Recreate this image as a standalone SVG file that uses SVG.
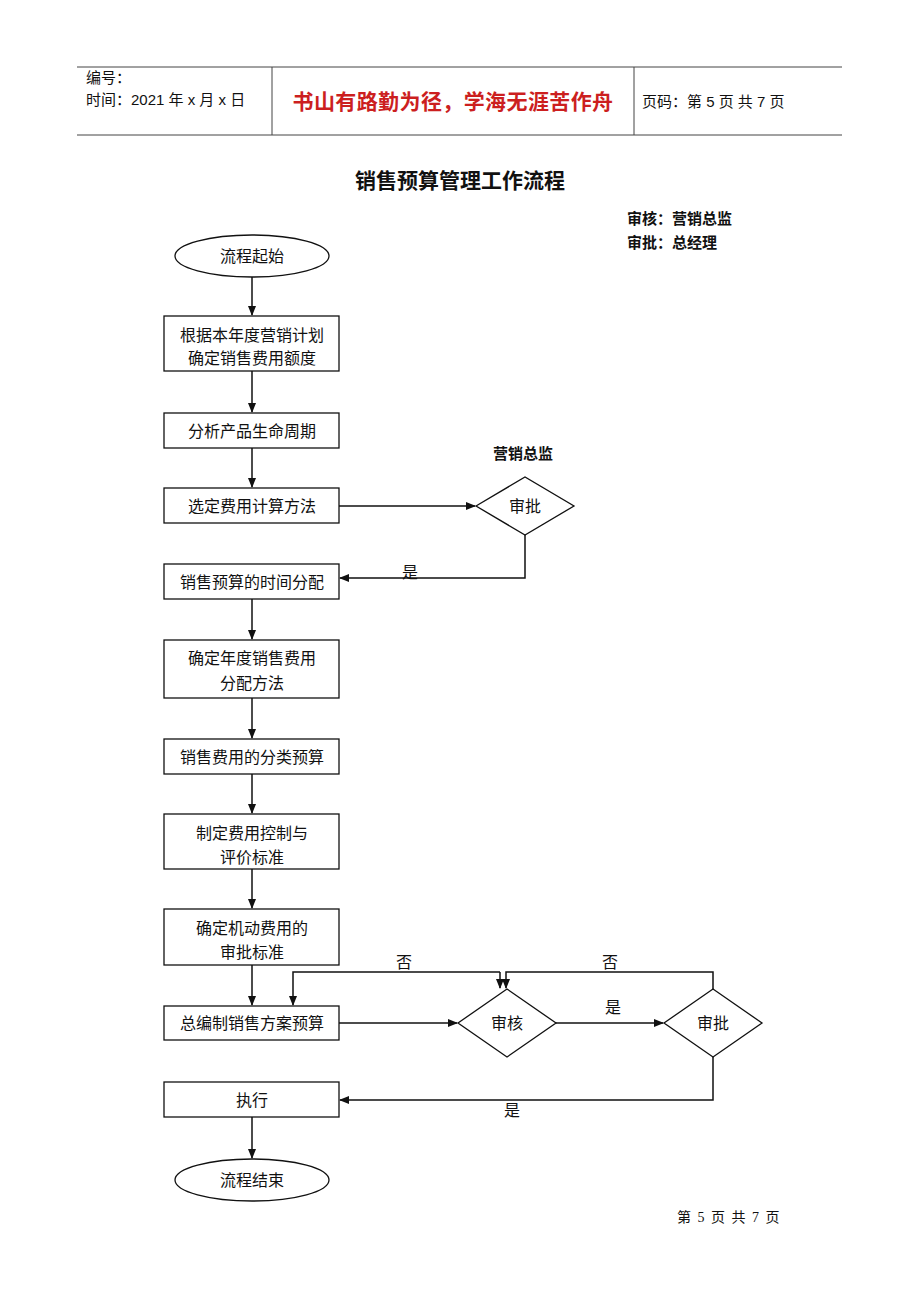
<svg xmlns="http://www.w3.org/2000/svg" width="920" height="1302" viewBox="0 0 920 1302">
<style>
.t{font-family:"Liberation Serif","Noto Sans CJK SC",serif;font-size:16px;fill:#111;text-anchor:middle}
.b{font-family:"Liberation Sans","Noto Sans CJK SC",sans-serif;font-weight:bold;fill:#111}
.h{font-family:"Liberation Sans","Noto Sans CJK SC",sans-serif;font-size:15px;fill:#111}
.n{fill:#fff;stroke:#111;stroke-width:1.3}
.c{fill:none;stroke:#111;stroke-width:1.5}
</style>
<defs>
<marker id="a" markerWidth="10" markerHeight="10" refX="9" refY="5" orient="auto" markerUnits="userSpaceOnUse">
<path d="M0,1 L10,5 L0,9 z" fill="#111"/>
</marker>
</defs>
<rect width="920" height="1302" fill="#fff"/>
<g id="header">
<line x1="77" y1="67" x2="842" y2="67" stroke="#444" stroke-width="1"/>
<line x1="77" y1="135" x2="842" y2="135" stroke="#444" stroke-width="1"/>
<line x1="272" y1="67" x2="272" y2="135" stroke="#444" stroke-width="1"/>
<line x1="634" y1="67" x2="634" y2="135" stroke="#444" stroke-width="1"/>
<text class="h" x="86" y="83">编号：</text>
<text class="h" x="86" y="105">时间：2021 年 x 月 x 日</text>
<text x="453" y="109" font-family="Liberation Sans,'Noto Sans CJK SC',sans-serif" font-size="21" font-weight="bold" fill="#cc1f1f" text-anchor="middle" letter-spacing="0.4">书山有路勤为径，学海无涯苦作舟</text>
<text class="h" x="642" y="107">页码：第 5 页  共 7 页</text>
</g>
<text class="b" x="460" y="188" font-size="21" text-anchor="middle">销售预算管理工作流程</text>
<text class="b" x="627" y="224" font-size="15">审核：营销总监</text>
<text class="b" x="627" y="248" font-size="15">审批：总经理</text>
<g id="connectors">
<path class="c" d="M252,277 V315" marker-end="url(#a)"/>
<path class="c" d="M252,371 V412" marker-end="url(#a)"/>
<path class="c" d="M252,448 V487" marker-end="url(#a)"/>
<path class="c" d="M339,506 H475" marker-end="url(#a)"/>
<path class="c" d="M525,535 V578 H340" marker-end="url(#a)"/>
<path class="c" d="M252,599 V639" marker-end="url(#a)"/>
<path class="c" d="M252,698 V738" marker-end="url(#a)"/>
<path class="c" d="M252,774 V813" marker-end="url(#a)"/>
<path class="c" d="M252,869 V908" marker-end="url(#a)"/>
<path class="c" d="M252,965 V1005" marker-end="url(#a)"/>
<path class="c" d="M339,1023 H457" marker-end="url(#a)"/>
<path class="c" d="M556,1023 H663" marker-end="url(#a)"/>
<path class="c" d="M713,989 V972 H506 V988" marker-end="url(#a)"/>
<path class="c" d="M500,972 H293 V1005" marker-end="url(#a)"/>
<path class="c" d="M500,972 V988" marker-end="url(#a)"/>
<path class="c" d="M713,1057 V1100 H340" marker-end="url(#a)"/>
<path class="c" d="M252,1117 V1158" marker-end="url(#a)"/>
<text class="t" x="410" y="578" font-size="15">是</text>
<text class="t" x="404" y="968" font-size="15">否</text>
<text class="t" x="610" y="968" font-size="15">否</text>
<text class="t" x="613" y="1013" font-size="15">是</text>
<text class="t" x="512" y="1116" font-size="15">是</text>
</g>
<g id="start"><ellipse class="n" cx="252" cy="256" rx="77" ry="21"/><text class="t" x="252" y="262">流程起始</text></g>
<g id="n1"><rect class="n" x="164" y="316" width="175" height="55"/><text class="t" x="252" y="341">根据本年度营销计划</text><text class="t" x="252" y="364">确定销售费用额度</text></g>
<g id="n2"><rect class="n" x="164" y="413" width="175" height="35"/><text class="t" x="252" y="437">分析产品生命周期</text></g>
<g id="n3"><rect class="n" x="164" y="488" width="175" height="35"/><text class="t" x="252" y="512">选定费用计算方法</text></g>
<g id="d1"><text class="b" x="523" y="459" font-size="15" text-anchor="middle">营销总监</text><path class="n" d="M476,506 L525,477 L574,506 L525,535 z"/><text class="t" x="525" y="512">审批</text></g>
<g id="n4"><rect class="n" x="164" y="564" width="175" height="35"/><text class="t" x="252" y="588">销售预算的时间分配</text></g>
<g id="n5"><rect class="n" x="164" y="640" width="175" height="58"/><text class="t" x="252" y="664">确定年度销售费用</text><text class="t" x="252" y="689">分配方法</text></g>
<g id="n6"><rect class="n" x="164" y="739" width="175" height="35"/><text class="t" x="252" y="763">销售费用的分类预算</text></g>
<g id="n7"><rect class="n" x="164" y="814" width="175" height="55"/><text class="t" x="252" y="839">制定费用控制与</text><text class="t" x="252" y="863">评价标准</text></g>
<g id="n8"><rect class="n" x="164" y="909" width="175" height="56"/><text class="t" x="252" y="934">确定机动费用的</text><text class="t" x="252" y="958">审批标准</text></g>
<g id="n9"><rect class="n" x="164" y="1006" width="175" height="34"/><text class="t" x="252" y="1029">总编制销售方案预算</text></g>
<g id="d2"><path class="n" d="M458,1023 L507,989 L556,1023 L507,1057 z"/><text class="t" x="507" y="1029">审核</text></g>
<g id="d3"><path class="n" d="M664,1023 L713,989 L762,1023 L713,1057 z"/><text class="t" x="713" y="1029">审批</text></g>
<g id="n10"><rect class="n" x="164" y="1082" width="175" height="35"/><text class="t" x="252" y="1106">执行</text></g>
<g id="end"><ellipse class="n" cx="252" cy="1180" rx="77" ry="21"/><text class="t" x="252" y="1186">流程结束</text></g>
<text x="729" y="1222" font-family="'Liberation Serif','Noto Sans CJK SC',serif" font-size="14" fill="#111" text-anchor="middle" letter-spacing="1.5">第 5 页 共 7 页</text>
</svg>
